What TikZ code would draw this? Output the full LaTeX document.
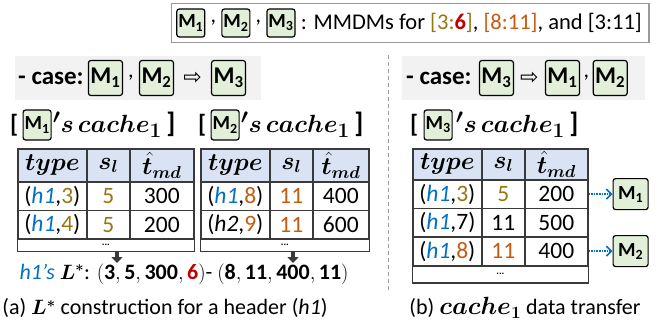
\documentclass[tikz,border=0pt]{standalone}
\usepackage{amsmath,bm}
\usepackage{fontspec}
\setmainfont{Carlito}
\newfontfamily\symfont{DejaVu Sans}
\usetikzlibrary{positioning,matrix,fit,arrows.meta}
\definecolor{mgreen}{HTML}{E2F0D9}
\definecolor{hblue}{HTML}{DAE3F3}
\definecolor{olv}{HTML}{9A7611}
\definecolor{orng}{HTML}{C55A11}
\definecolor{dred}{HTML}{C00000}
\definecolor{hblu}{HTML}{0070C0}
\definecolor{tabl}{HTML}{3A3A3A}
\newcommand{\Mb}[1]{M\textsubscript{#1}}
\newcommand{\hh}[1]{\textcolor{hblu}{\itshape h#1}}
\newcommand{\fs}[1]{\fontsize{#1}{#1}\selectfont}

\begin{document}
\begin{tikzpicture}[x=1pt,y=-1pt,font=\fs{22},
  mbox/.style={draw,rounded corners=2.5pt,line width=1.2pt,fill=mgreen,
    font=\fs{20}\bfseries,inner sep=0pt,minimum width=28pt,minimum height=28pt},
  cbox/.style={mbox,font=\fs{24}\bfseries,minimum width=34pt,minimum height=35pt},
  cma/.style={inner sep=5pt},
  cell/.style={draw=tabl,line width=1.3pt,inner sep=0pt,minimum height=28.5pt,
    anchor=center,font=\fs{23.5}},
  tab/.style={matrix of nodes,nodes={cell},inner sep=0pt,column sep=-1.3pt,
    row sep=-1.3pt,anchor=north west,row 1/.style={nodes={fill=hblue,
    minimum height=33pt,font=\fs{25}}}},
  dots/.style={draw=tabl,line width=1.3pt,inner sep=0pt,font=\fs{10}\bfseries},
  down/.style={line width=3.5pt,draw=tabl,-{Triangle[width=11pt,length=6pt]}},
  dotarr/.style={hblu,line width=1.6pt,densely dotted,
    -{Straight Barb[length=5pt,width=10pt]}},
  ttl/.style={font=\fs{25}\bfseries,inner sep=1pt},
  csl/.style={font=\fs{25}\bfseries,inner sep=1pt},
  arw/.style={font=\fs{22}\symfont,inner sep=1pt}]
  \useasboundingbox (0,0) rectangle (660,330);

  % legend
  \node[anchor=east,inner sep=2pt,font=\fs{22.5}] (lgtxt) at (644,23) {: MMDMs for
    \textcolor{olv}{[3:}\textcolor{dred}{\textbf{6}}\textcolor{olv}{]},
    \textcolor{orng}{[8:11]}, and [3:11]};
  \node[mbox,left=3pt of lgtxt] (lg3) {\Mb3};
  \node[cma,left=0pt of lg3] (lgc2) {,};
  \node[mbox,left=0pt of lgc2] (lg2) {\Mb2};
  \node[cma,left=0pt of lg2] (lgc1) {,};
  \node[mbox,left=0pt of lgc1] (lg1) {\Mb1};
  \node[fit=(lg1)(lgtxt),draw=gray!80,line width=1.3pt,inner sep=5pt] (lgframe) {};

  % cases
  \fill[gray!10] (15,56) rectangle (261,100);
  \node[csl,anchor=west] (cs1) at (17,78) {- case:};
  \node[cbox,right=3pt of cs1] (c1a) {\Mb1};
  \node[cma,right=0pt of c1a] (cc1) {,};
  \node[cbox,right=0pt of cc1] (c1b) {\Mb2};
  \node[arw,right=8pt of c1b] (ca1) {⇨};
  \node[cbox,right=8pt of ca1] (c1c) {\Mb3};

  \fill[gray!10] (402,56) rectangle (645,100);
  \node[csl,anchor=west] (cs2) at (405,78) {- case:};
  \node[cbox,right=6pt of cs2] (c2a) {\Mb3};
  \node[arw,right=5pt of c2a] (ca2) {⇨};
  \node[cbox,right=5pt of ca2] (c2b) {\Mb1};
  \node[right=0pt of c2b] (cc2) {,};
  \node[cbox,right=0pt of cc2] (c2c) {\Mb2};

  \draw[gray!80,line width=1pt,dash pattern=on 4pt off 3pt] (388,55) -- (388,292);

  % titles
  \node[ttl,anchor=west] (t1a) at (9,125) {[};
  \node[mbox,right=3pt of t1a,minimum height=30pt] (t1m) {\Mb1};
  \node[ttl,right=0pt of t1m,font=\fs{28}\bfseries] (t1b) {$\bm{'s\,cache_1}$\,]};
  \node[ttl,anchor=west] (t2a) at (197,125) {[};
  \node[mbox,right=3pt of t2a,minimum height=30pt] (t2m) {\Mb2};
  \node[ttl,right=0pt of t2m,font=\fs{28}\bfseries] (t2b) {$\bm{'s\,cache_1}$\,]};
  \node[ttl,anchor=west] (t3a) at (409,125) {[};
  \node[mbox,right=4pt of t3a,minimum height=30pt] (t3m) {\Mb3};
  \node[ttl,right=2pt of t3m,font=\fs{28}\bfseries] (t3b) {$\bm{'s\,cache_1}$\,]};

  % caches
  \matrix (tb1) [tab,column 1/.style={nodes={minimum width=69pt}},
    column 2/.style={nodes={minimum width=43pt}},
    column 3/.style={nodes={minimum width=64pt}}] at (17,148) {
    $\bm{type}$ & $\bm{s_l}$ & $\bm{\hat{t}_{md}}$ \\
    (\hh1,\textcolor{olv}{3}) & \textcolor{olv}{5} & 300 \\
    (\hh1,\textcolor{olv}{4}) & \textcolor{olv}{5} & 200 \\
  };
  \node[dots,fit={(tb1-3-1.south west)([yshift=-12pt]tb1-3-3.south east)}] (tb1d) {...};

  \matrix (tb2) [tab,column 1/.style={nodes={minimum width=69pt}},
    column 2/.style={nodes={minimum width=43pt}},
    column 3/.style={nodes={minimum width=56pt}}] at (200,148) {
    $\bm{type}$ & $\bm{s_l}$ & $\bm{\hat{t}_{md}}$ \\
    (\hh1,\textcolor{orng}{8}) & \textcolor{orng}{11} & 400 \\
    ({\itshape h2},\textcolor{orng}{9}) & \textcolor{orng}{11} & 600 \\
  };
  \node[dots,fit={(tb2-3-1.south west)([yshift=-12pt]tb2-3-3.south east)}] (tb2d) {...};

  \matrix (tb3) [tab,column 1/.style={nodes={minimum width=69pt}},
    column 2/.style={nodes={minimum width=43pt}},
    column 3/.style={nodes={minimum width=63pt}},
    row 1/.style={nodes={fill=hblue,minimum height=31pt,font=\fs{25}}}] at (412,148) {
    $\bm{type}$ & $\bm{s_l}$ & $\bm{\hat{t}_{md}}$ \\
    (\hh1,\textcolor{olv}{3}) & \textcolor{olv}{5} & 200 \\
    (\hh1,7) & 11 & 500 \\
    (\hh1,\textcolor{orng}{8}) & \textcolor{orng}{11} & 400 \\
  };
  \node[dots,fit={(tb3-4-1.south west)([yshift=-17pt]tb3-4-3.south east)}] (tb3d) {...};

  % L* of h1
  \coordinate (a1) at (117,263);
  \coordinate (a2) at (293,263);
  \draw[down] (tb1d.south -| a1) -- (a1);
  \draw[down] (tb2d.south -| a2) -- (a2);
  \node[anchor=west,font=\fs{22}] (lstar) at (16,274) {{\color{hblu}\itshape h1’s}
    $\bm{L^*}$: $\mathbf{(3,5,300,{\color{dred}6})}$- $\mathbf{(8,11,400,11)}$};

  % transfer
  \node[mbox,right=24pt of tb3-2-3,minimum width=35pt,minimum height=31pt] (tr1) {\Mb1};
  \node[mbox,right=24pt of tb3-4-3,minimum width=35pt,minimum height=31pt] (tr2) {\Mb2};
  \draw[dotarr] (tb3-2-3.east) -- (tr1.west);
  \draw[dotarr] (tb3-4-3.east) -- (tr2.west);

  \node (capa) at (165,308) {(a) $\bm{L^*}$ construction for a header (\textit{h1})};
  \node (capb) at (525,308) {(b) {\fs{26}$\bm{cache_1}$} data transfer};
\end{tikzpicture}
\end{document}
